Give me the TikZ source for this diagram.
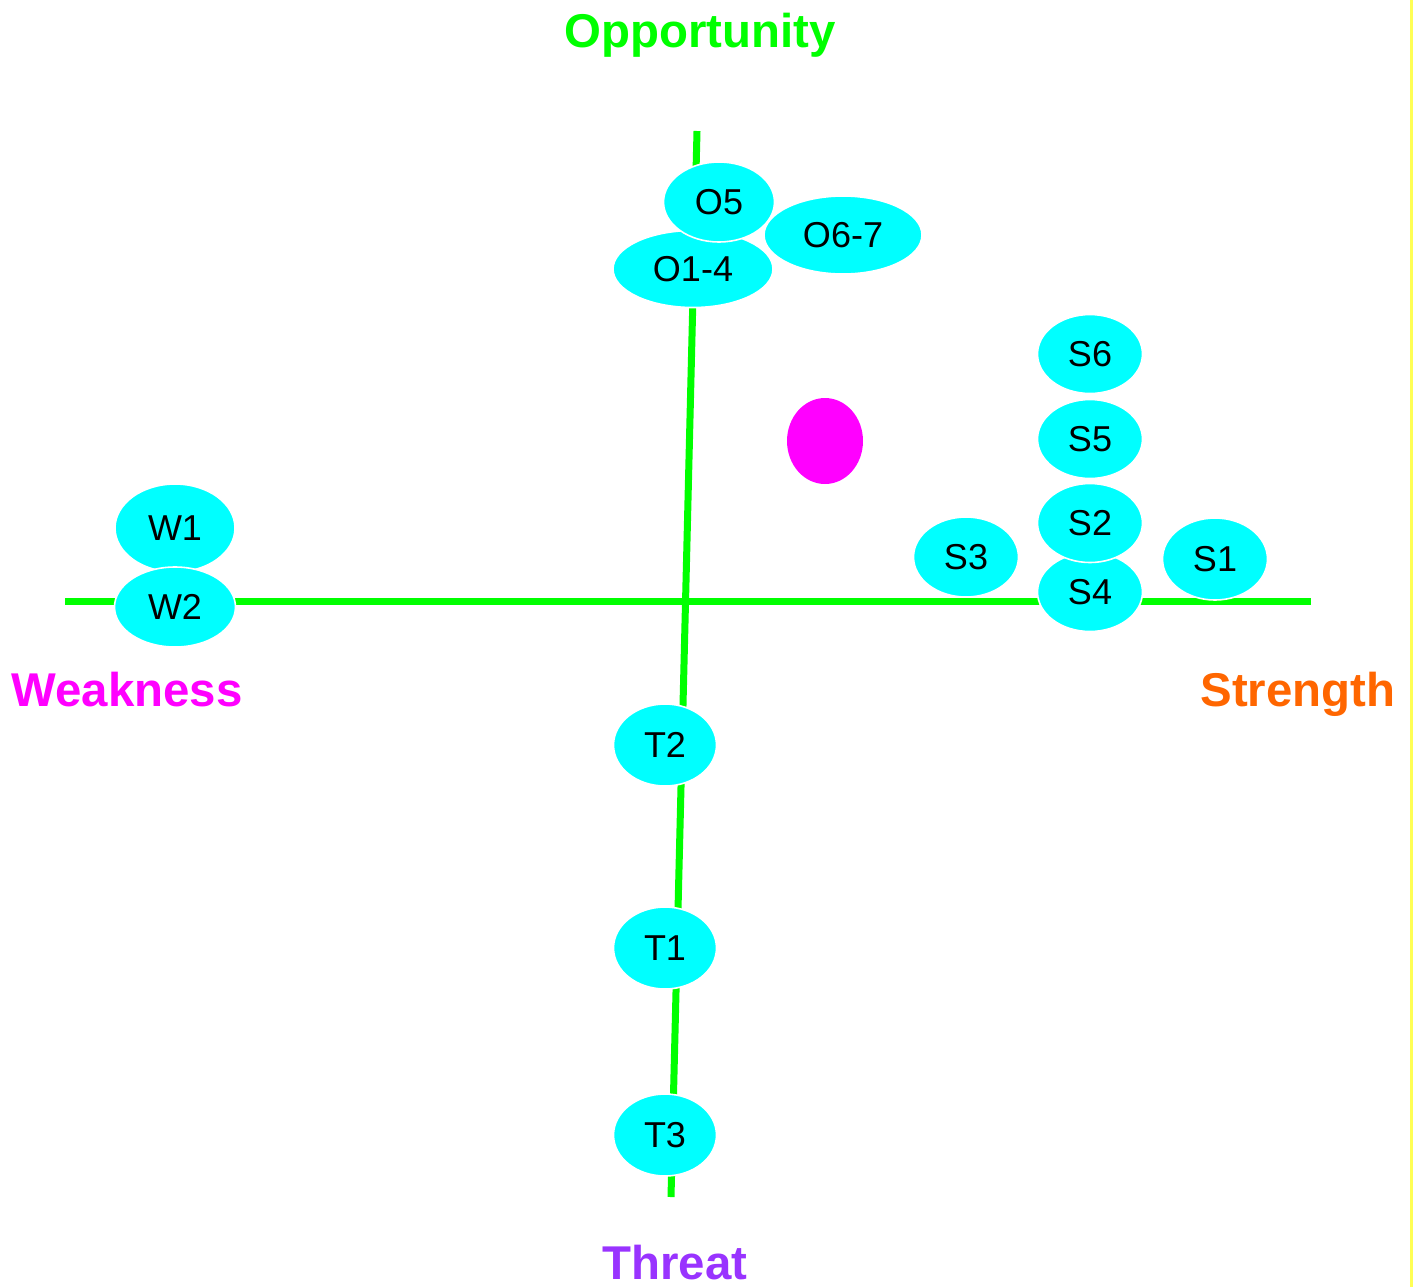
\documentclass[tikz,border=0pt]{standalone}
\usepackage{fontspec}
\setmainfont{Liberation Sans}
\usetikzlibrary{shapes.geometric}
\definecolor{axisgreen}{HTML}{00FF00}
\definecolor{bubble}{HTML}{00FFFF}
\definecolor{magentaC}{HTML}{FF00FF}
\definecolor{orangeC}{HTML}{FF6600}
\definecolor{purpleC}{HTML}{9933FF}
\definecolor{yellowC}{HTML}{FFFF55}
\tikzset{
  bub/.style={ellipse, fill=bubble, draw=white, line width=0.8pt, inner sep=0pt,
    font=\fontsize{18}{18}\selectfont, text=black},
  axis/.style={draw=axisgreen, line width=3.5pt},
  title/.style={font=\fontsize{23.7}{24}\selectfont\bfseries, anchor=base, inner sep=0pt}
}
\begin{document}
\begin{tikzpicture}[x=0.5pt, y=-0.5pt]
\useasboundingbox (0,0) rectangle (1414,1287);
\fill[white] (0,0) rectangle (1414,1287);
\draw[yellowC, line width=1.5pt] (1411.5,0) -- (1411.5,1287);
% axes
\coordinate (hl) at (65,601);
\coordinate (hr) at (1311,601);
\coordinate (vt) at (697,131);
\coordinate (vb) at (671,1197);
\draw[axis] (hl) -- (hr);
\draw[axis] (vt) -- (vb);
% titles
\node[title, text=axisgreen] (opp) at (700,47) {Opportunity};
\node[title, text=magentaC] (weak) at (127,706) {Weakness};
\node[title, text=orangeC] (str) at (1298,706) {Strength};
\node[title, text=purpleC] (thr) at (675,1279) {Threat};
% bubbles (sizes in pt = pixels/2)
\node[bub, minimum width=80pt, minimum height=38.5pt] (o14) at (693,269) {O1-4};
\node[bub, minimum width=55.5pt, minimum height=40pt] (o5) at (719,202) {O5};
\node[bub, minimum width=79pt, minimum height=39pt] (o67) at (843,235) {O6-7};
\node[bub, minimum width=52.5pt, minimum height=39.5pt] (s6) at (1090,354) {S6};
\node[bub, minimum width=52.5pt, minimum height=39.5pt] (s5) at (1090,439) {S5};
\node[bub, minimum width=52.5pt, minimum height=39.5pt] (s4) at (1090,592) {S4};
\node[bub, minimum width=52.5pt, minimum height=39.5pt] (s2) at (1090,523) {S2};
\node[bub, minimum width=52.5pt, minimum height=40pt] (s3) at (966,557) {S3};
\node[bub, minimum width=52.5pt, minimum height=41pt] (s1) at (1215,559) {S1};
\node[bub, minimum width=60pt, minimum height=44pt] (w1) at (175,528) {W1};
\node[bub, minimum width=60.5pt, minimum height=40pt] (w2) at (175,607) {W2};
\node[bub, minimum width=51.5pt, minimum height=41pt] (t2) at (665,745) {T2};
\node[bub, minimum width=51.5pt, minimum height=41pt] (t1) at (665,948) {T1};
\node[bub, minimum width=51.5pt, minimum height=41pt] (t3) at (665,1135) {T3};
\node[ellipse, fill=magentaC, inner sep=0pt, minimum width=38pt, minimum height=43pt] (dot) at (825,441) {};
\end{tikzpicture}
\end{document}
